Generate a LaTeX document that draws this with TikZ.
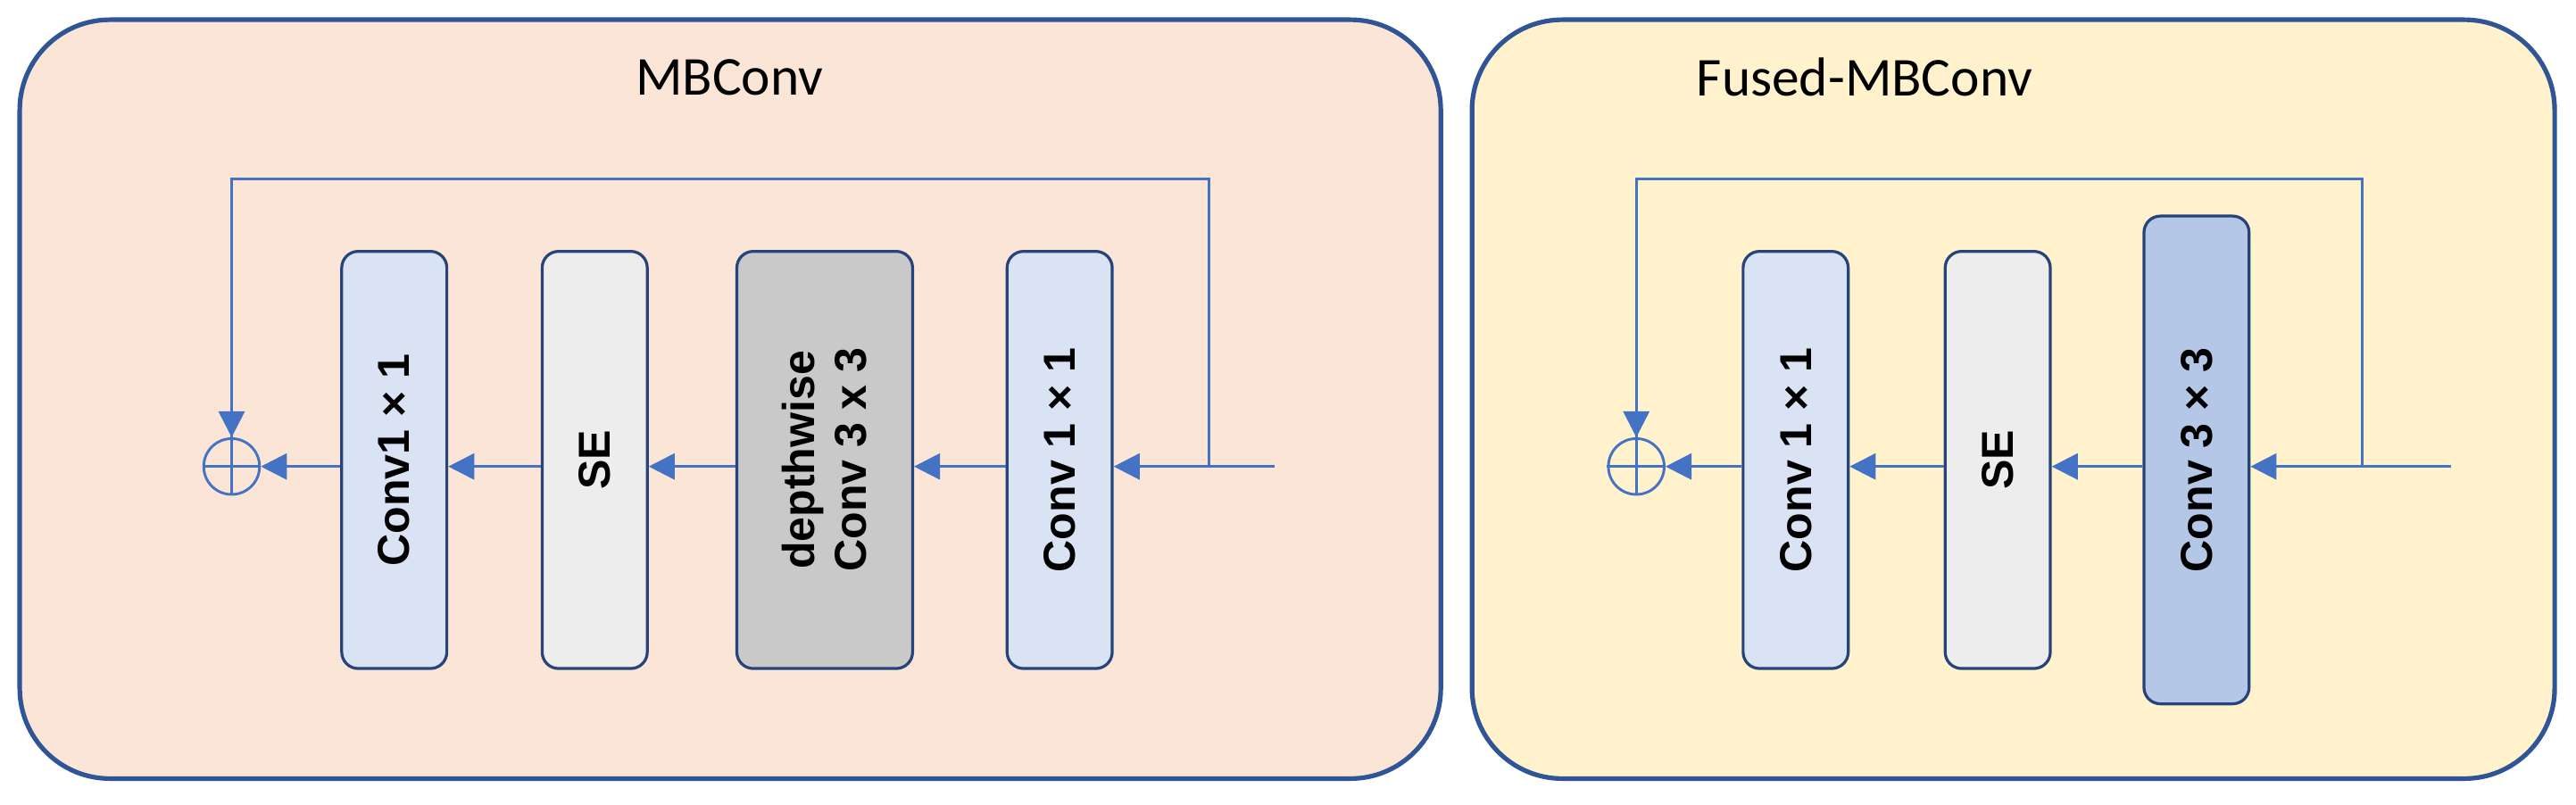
\documentclass[tikz,border=0pt]{standalone}
\usepackage{fontspec}
\setmainfont{Liberation Sans}
\newfontfamily\titlefont{Carlito}
\usetikzlibrary{arrows.meta}
\definecolor{edgeblue}{HTML}{2F5597}
\definecolor{linkblue}{HTML}{4472C4}
\definecolor{peach}{HTML}{FBE5D6}
\definecolor{cream}{HTML}{FFF2CC}
\definecolor{lightblue}{HTML}{DAE3F3}
\definecolor{midblue}{HTML}{B4C7E7}
\definecolor{lightgray}{HTML}{EDEDED}
\definecolor{midgray}{HTML}{C9C9C9}
\tikzset{
  panel/.style={draw=edgeblue, line width=1.6pt, rounded corners=1.1cm},
  layer/.style={draw=edgeblue!80!black, line width=1pt, rounded corners=0.2cm,
    rotate=90, minimum width=5.08cm, minimum height=1.28cm, inner sep=0pt,
    font=\bfseries\fontsize{15.5}{18}\selectfont, align=center},
  flow/.style={linkblue, line width=0.9pt, -{Triangle[length=9pt,width=9pt]}},
  skip/.style={linkblue, line width=0.9pt},
  addop/.style={circle, draw=linkblue, line width=0.9pt, minimum size=0.68cm, inner sep=0pt}
}
\begin{document}
\begin{tikzpicture}[x=0.02cm, y=-0.02cm]
  \useasboundingbox (0,0) rectangle (1568,490);

  % Panels
  \draw[panel, fill=peach] (12,12) rectangle (877,474);
  \draw[panel, fill=cream] (896,12) rectangle (1555,474);
  \node[font=\titlefont\fontsize{19}{21}\selectfont] (mbtitle) at (444,47) {MBConv};
  \node[font=\titlefont\fontsize{19}{21}\selectfont] (fstitle) at (1135,47) {Fused-MBConv};

  % MBConv block
  \node[layer, fill=lightblue] (mbout) at (240,280) {Conv1 × 1};
  \node[layer, fill=lightgray] (mbse) at (362,280) {SE};
  \node[layer, fill=midgray, minimum height=2.14cm] (mbdw) at (502,280) {depthwise\\Conv 3 x 3};
  \node[layer, fill=lightblue] (mbin) at (645,280) {Conv 1 × 1};
  \node[addop] (mbadd) at (141,284) {};
  \draw[skip] (mbadd.north) -- (mbadd.south) (mbadd.west) -- (mbadd.east);
  \coordinate (mbsrc) at (776,284);
  \coordinate (mbsplit) at (736,284);

  \draw[flow] (mbsrc) -- (mbin.south |- mbsrc);
  \draw[flow] (mbin.north |- mbsrc) -- (mbdw.south |- mbsrc);
  \draw[flow] (mbdw.north |- mbsrc) -- (mbse.south |- mbsrc);
  \draw[flow] (mbse.north |- mbsrc) -- (mbout.south |- mbsrc);
  \draw[flow] (mbout.north |- mbsrc) -- (mbadd.east);
  \draw[skip] (mbsplit) -- (736,109) -| (mbadd.north);
  \draw[flow] (mbadd.north |- 0,240) -- (mbadd.north);

  % Fused-MBConv block
  \node[layer, fill=lightblue] (fsout) at (1093,280) {Conv 1 × 1};
  \node[layer, fill=lightgray] (fsse) at (1216,280) {SE};
  \node[layer, fill=midblue, minimum width=5.94cm] (fsin) at (1337,280) {Conv 3 × 3};
  \node[addop] (fsadd) at (996,284) {};
  \draw[skip] (fsadd.north) -- (fsadd.south) (fsadd.west) -- (fsadd.east);
  \coordinate (fssrc) at (1492,284);
  \coordinate (fssplit) at (1438,284);

  \draw[flow] (fssrc) -- (fsin.south |- fssrc);
  \draw[flow] (fsin.north |- fssrc) -- (fsse.south |- fssrc);
  \draw[flow] (fsse.north |- fssrc) -- (fsout.south |- fssrc);
  \draw[flow] (fsout.north |- fssrc) -- (fsadd.east);
  \draw[skip] (fssplit) -- (1438,109) -| (fsadd.north);
  \draw[flow] (fsadd.north |- 0,240) -- (fsadd.north);
\end{tikzpicture}
\end{document}
